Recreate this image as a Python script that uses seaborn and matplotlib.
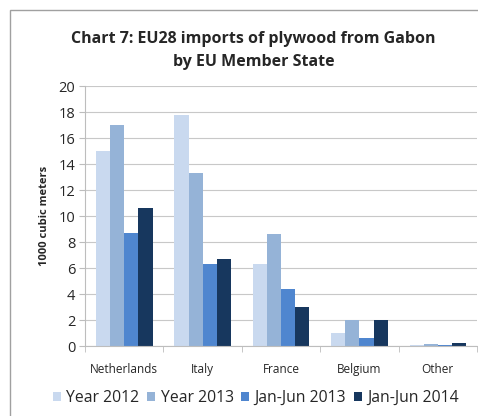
import pandas as pd
import numpy as np
import seaborn as sns
import matplotlib.pyplot as plt
from matplotlib.patches import Rectangle

# Data (1000 cubic meters)
states = ['Netherlands', 'Italy', 'France', 'Belgium', 'Other']
series = ['Year 2012', 'Year 2013', 'Jan-Jun 2013', 'Jan-Jun 2014']
year_2012 = [15.0, 17.8, 6.3, 1.0, 0.1]
year_2013 = [17.0, 13.3, 8.6, 2.0, 0.15]
h1_2013 = [8.7, 6.3, 4.4, 0.6, 0.1]
h1_2014 = [10.6, 6.7, 3.0, 2.0, 0.25]
colors = ['#c9d9ef', '#95b3d7', '#4f86cf', '#17375e']

df = pd.DataFrame({
    'state': states * 4,
    'series': np.repeat(series, len(states)),
    'value': year_2012 + year_2013 + h1_2013 + h1_2014,
})

sns.set_style('white')
plt.rcParams['font.family'] = ['Open Sans', 'DejaVu Sans']

fig = plt.figure(figsize=(4.78, 4.16), dpi=100)
ax = fig.add_axes([0.178, 0.168, 0.82, 0.625])

sns.barplot(data=df, x='state', y='value', hue='series', palette=colors,
            width=0.72, saturation=1, ax=ax, edgecolor='none')

ax.set_ylim(0, 20)
ax.set_yticks(range(0, 21, 2))
ax.set_xlim(-0.5, 4.5)
ax.yaxis.grid(True, color='#c8c8c8', linewidth=0.8)
ax.set_axisbelow(True)
for s in ['top', 'right']:
    ax.spines[s].set_visible(False)
ax.spines['left'].set_color('#bdbdbd')
ax.spines['bottom'].set_color('#bdbdbd')
ax.tick_params(axis='y', labelsize=10.5, length=4, color='#bdbdbd', left=True, pad=3)
ax.tick_params(axis='x', labelsize=8.5, length=0, pad=12)
# minor ticks between categories, like Excel
ax.set_xticks(np.arange(-0.5, 4.6, 1), minor=True)
ax.tick_params(axis='x', which='minor', length=4, color='#bdbdbd', bottom=True)
ax.set_xlabel('')
ax.set_ylabel('1000 cubic meters', fontsize=8, fontweight='bold', labelpad=6)

fig.suptitle('Chart 7: EU28 imports of plywood from Gabon\nby EU Member State',
             x=0.53, y=0.925, fontsize=11.5, fontweight='bold', linespacing=1.55)

ax.legend(loc='upper center', bbox_to_anchor=(0.436, -0.115), ncol=4, frameon=False,
          fontsize=11.3, handlelength=0.5, handleheight=0.5, handletextpad=0.35,
          columnspacing=0.5)

fig.patches.append(Rectangle((10 / 478, -0.05), 1.1, 1 - 10 / 416 + 0.05,
                             transform=fig.transFigure, fill=False,
                             edgecolor='#a0a0a0', linewidth=1))

fig.savefig('out.png', dpi=100)
